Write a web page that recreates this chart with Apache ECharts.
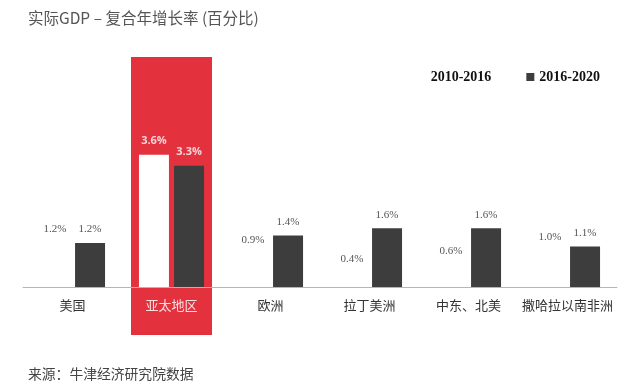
<!DOCTYPE html>
<html><head><meta charset="utf-8">
<script src="https://cdn.jsdelivr.net/npm/echarts@6/dist/echarts.min.js"></script>
<style>html,body{margin:0;padding:0;background:#fff}#c{width:640px;height:389px}</style>
</head><body><div id="c"></div>
<script>
const categories = ['美国', '亚太地区', '欧洲', '拉丁美洲', '中东、北美', '撒哈拉以南非洲'];
const series2010_2016 = [1.2, 3.6, 0.9, 0.4, 0.6, 1.0];
const series2016_2020 = [1.2, 3.3, 1.4, 1.6, 1.6, 1.1];
const seriesNames = ['2010-2016', '2016-2020'];
const highlightIndex = 1;

const chart = echarts.init(document.getElementById('c'));
const serif = '"Liberation Serif", "DejaVu Serif", serif';
const sans = '"Noto Sans CJK SC", "Noto Sans", sans-serif';

function mkData(arr) {
  return arr.map((v, i) => i === highlightIndex ? {
    value: v,
    label: { color: '#f6d3d7', fontWeight: 'bold', fontFamily: '"Open Sans", sans-serif', fontSize: 11 }
  } : v);
}
const fmt = p => Number(p.value).toFixed(1) + '%';

chart.setOption({
  animation: false,
  title: [
    { text: '实际GDP – 复合年增长率 (百分比)', left: 23, top: 5,
      textStyle: { fontFamily: sans, fontSize: 15.5, fontWeight: 'normal', color: '#555' } },
    { text: '来源：牛津经济研究院数据', left: 23, top: 362,
      textStyle: { fontFamily: sans, fontSize: 13.8, fontWeight: 'normal', color: '#444' } }
  ],
  legend: {
    right: 35, top: 65, itemWidth: 8, itemHeight: 8, itemGap: 35,
    textStyle: { fontFamily: serif, fontSize: 14, fontWeight: 'bold', color: '#111' },
    data: [{ name: seriesNames[0], icon: 'rect' }, { name: seriesNames[1], icon: 'rect' }]
  },
  graphic: [{
    type: 'rect', z: 0, silent: true,
    shape: { x: 131, y: 57, width: 81, height: 278 },
    style: { fill: '#e3313e' }
  }],
  grid: { left: 23, right: 23, top: 140, bottom: 102 },
  xAxis: {
    type: 'category',
    data: categories.map((c, i) => i === highlightIndex ? { value: c, textStyle: { color: '#f8e0e2' } } : c),
    axisLine: { lineStyle: { color: '#b5b5b5', width: 1 } },
    axisTick: { show: false },
    axisLabel: { fontFamily: sans, fontSize: 13, color: '#333', margin: 12, interval: 0 }
  },
  yAxis: { type: 'value', min: 0, max: 4, show: false, splitLine: { show: false } },
  series: [
    { name: seriesNames[0], type: 'bar', z: 3, barWidth: 30, barGap: '17%',
      data: mkData(series2010_2016),
      itemStyle: { color: '#ffffff' },
      label: { show: true, position: 'top', distance: 8, formatter: fmt,
        fontFamily: serif, fontSize: 11, color: '#555' } },
    { name: seriesNames[1], type: 'bar', z: 3, barWidth: 30,
      data: mkData(series2016_2020),
      itemStyle: { color: '#3d3d3d' },
      label: { show: true, position: 'top', distance: 8, formatter: fmt,
        fontFamily: serif, fontSize: 11, color: '#555' } }
  ]
});
</script></body></html>
